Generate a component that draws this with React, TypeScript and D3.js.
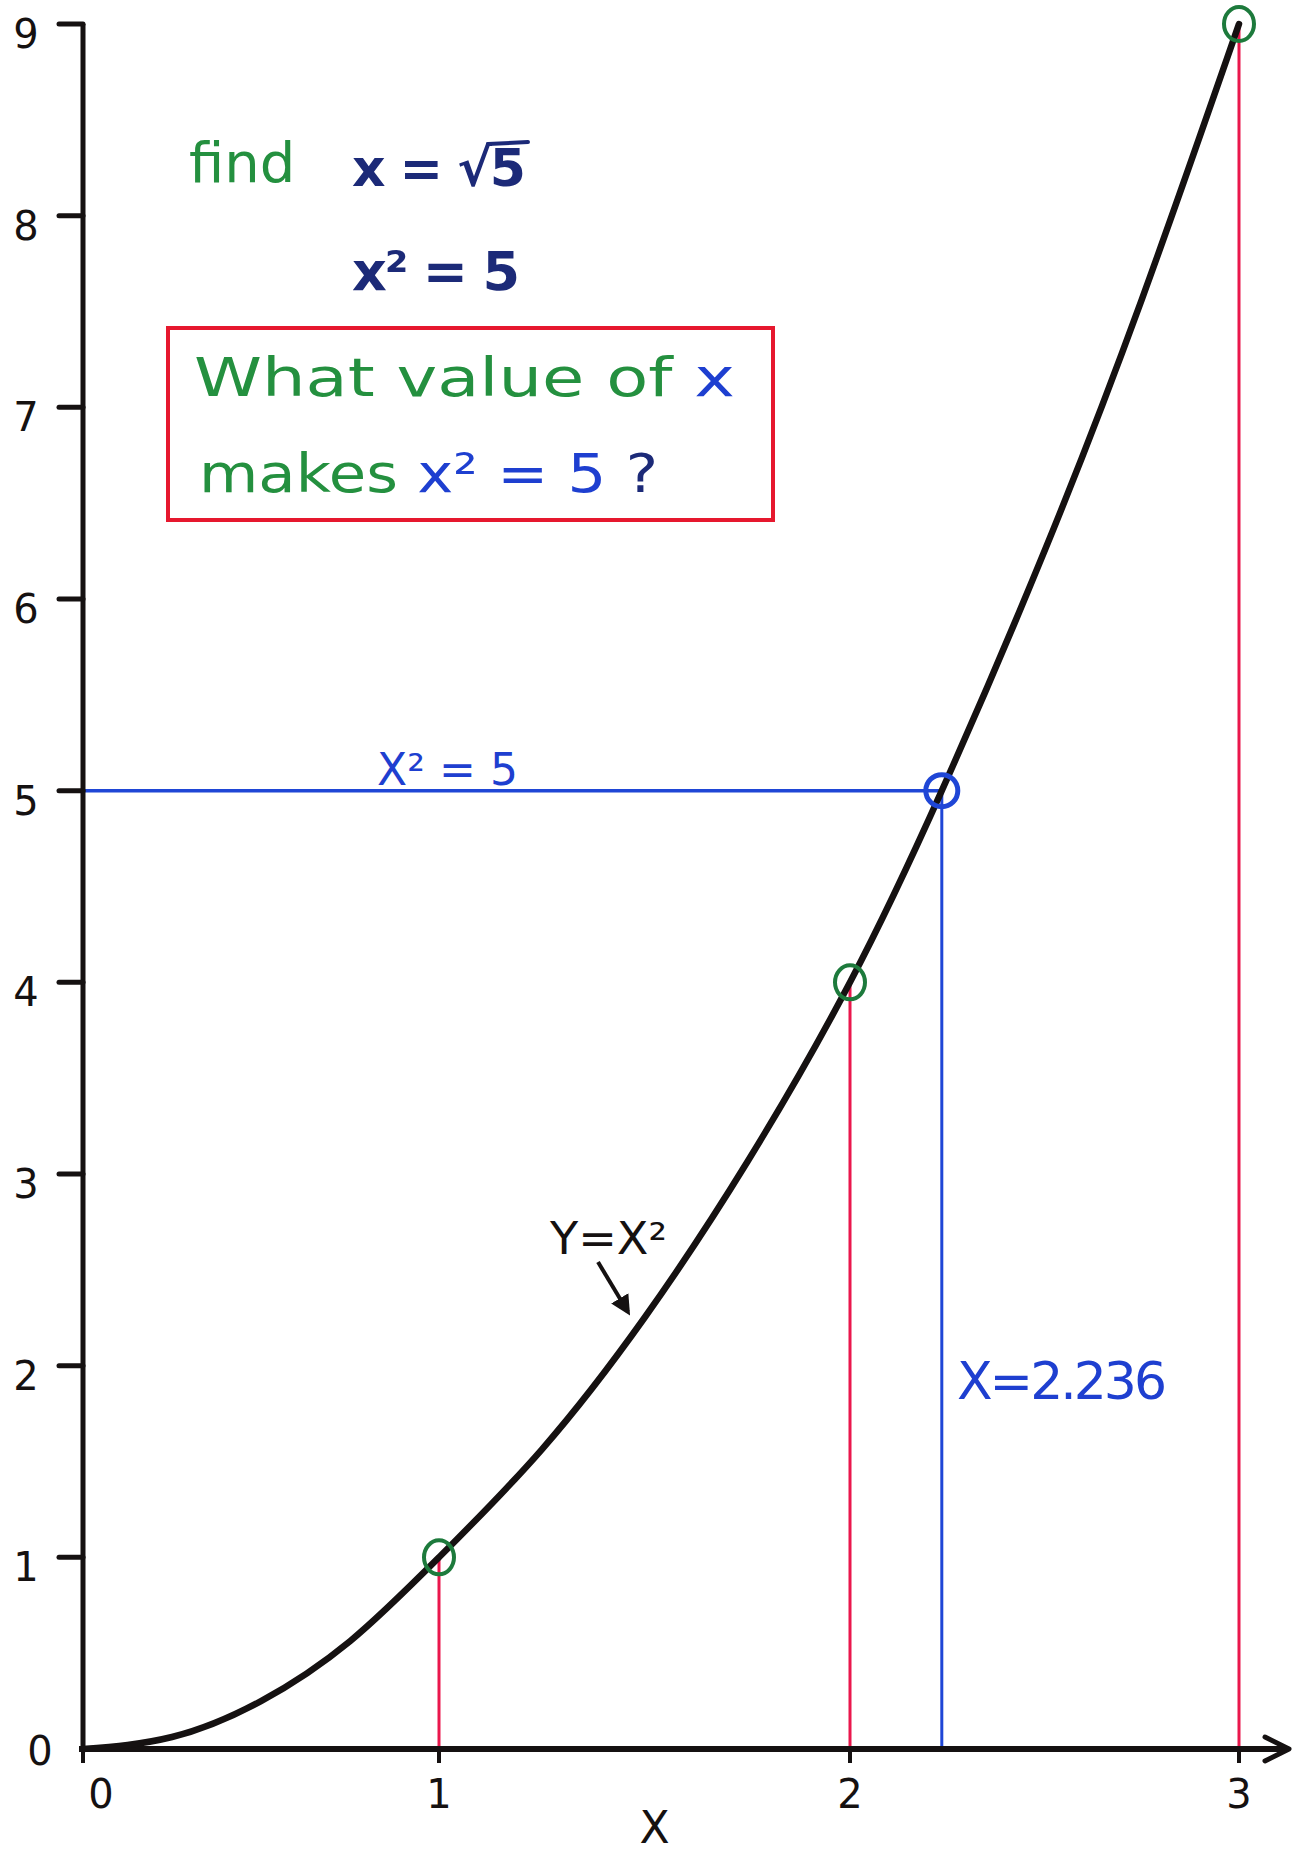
import * as d3 from "d3";

// hand-drawn x axis is uneven, so the scale is piecewise
const xTicks = [0, 1, 2, 3];
const yTicks = [0, 1, 2, 3, 4, 5, 6, 7, 8, 9];

const curveX = [0, 0.25, 0.5, 0.75, 1, 1.25, 1.5, 1.75, 2, 2.236, 2.5, 2.75, 3];
const curveY = [0, 0.0625, 0.25, 0.5625, 1, 1.5625, 2.25, 3.0625, 4, 5, 6.25, 7.5625, 9];

// circled points with red drop lines
const markX = [1, 2, 3];
const markY = [1, 4, 9];

// the answer point
const targetX = 2.236;
const targetY = 5;

const W = 1300;
const H = 1852;

const FONT = "'DejaVu Sans', sans-serif";
const BLACK = "#151111";
const GREEN = "#24903f";
const GREEN_DARK = "#1d7a3c";
const NAVY = "#1c2a78";
const BLUE = "#1e3fd0";
const BLUE_LINE = "#1f46d6";
const RED = "#e6182e";
const RED_LINE = "#ea174c";

export default function App() {
  const x = d3.scaleLinear().domain([0, 1, 2, 3]).range([83, 439, 850, 1239]);
  const y = d3.scaleLinear().domain([0, 9]).range([1749, 24]);

  const pts: [number, number][] = curveX.map((v, i) => [x(v), y(curveY[i])]);
  const curvePath = d3.line().curve(d3.curveNatural)(pts) || "";

  const axisY = y(0);
  const axisX = x(0);
  const arrowTip = 1289;

  return (
    <svg
      width={W}
      height={H}
      style={{ position: "absolute", left: 0, top: 0, background: "#fff" }}
      fontFamily={FONT}
    >
      <rect width={W} height={H} fill="#fff" />

      {/* red drop lines */}
      {markX.map((v, i) => (
        <line
          key={"r" + v}
          x1={x(v)}
          x2={x(v)}
          y1={y(markY[i])}
          y2={axisY}
          stroke={RED_LINE}
          strokeWidth={3}
        />
      ))}

      {/* blue guide lines */}
      <line x1={axisX} x2={x(targetX)} y1={y(targetY)} y2={y(targetY)} stroke={BLUE_LINE} strokeWidth={3.5} />
      <line x1={x(targetX)} x2={x(targetX)} y1={y(targetY)} y2={axisY} stroke={BLUE_LINE} strokeWidth={3} />

      {/* y axis */}
      <line x1={axisX} x2={axisX} y1={y(9)} y2={axisY + 2} stroke={BLACK} strokeWidth={5} />
      {yTicks.map((t) => (
        <g key={"y" + t}>
          {t > 0 && (
            <line x1={axisX - 24} x2={axisX} y1={y(t)} y2={y(t)} stroke={BLACK} strokeWidth={5} strokeLinecap="round" />
          )}
          <text
            x={t === 0 ? 40 : 26}
            y={y(t) + (t === 0 ? 16 : 24)}
            textAnchor="middle"
            fontSize={40}
            fill={BLACK}
          >
            {t}
          </text>
        </g>
      ))}

      {/* x axis with arrow */}
      <line x1={axisX - 4} x2={arrowTip - 2} y1={axisY} y2={axisY} stroke={BLACK} strokeWidth={6} />
      <polyline
        points={`${arrowTip - 24},${axisY - 12} ${arrowTip},${axisY} ${arrowTip - 24},${axisY + 12}`}
        fill="none"
        stroke={BLACK}
        strokeWidth={5}
        strokeLinejoin="round"
        strokeLinecap="round"
      />
      {xTicks.map((t) => (
        <g key={"x" + t}>
          <line x1={x(t)} x2={x(t)} y1={axisY} y2={axisY + 14} stroke={BLACK} strokeWidth={4} />
          <text
            x={t === 0 ? x(t) + 18 : x(t)}
            y={1808}
            textAnchor="middle"
            fontSize={40}
            fill={BLACK}
          >
            {t}
          </text>
        </g>
      ))}
      <text x={x(1.5) + 10} y={1843} textAnchor="middle" fontSize={44} fill={BLACK}>
        X
      </text>

      {/* the curve */}
      <path d={curvePath} fill="none" stroke={BLACK} strokeWidth={6.5} strokeLinecap="round" />

      {/* circled points */}
      {markX.map((v, i) => (
        <ellipse
          key={"c" + v}
          cx={x(v)}
          cy={y(markY[i])}
          rx={15}
          ry={17}
          fill="none"
          stroke={GREEN_DARK}
          strokeWidth={4}
        />
      ))}
      <circle cx={x(targetX)} cy={y(targetY)} r={16} fill="none" stroke={BLUE_LINE} strokeWidth={5} />

      {/* labels on the graph */}
      <text x={377} y={785} fontSize={44} fill={BLUE} textLength={141} lengthAdjust="spacing">
        X² = 5
      </text>
      <text x={957} y={1399} fontSize={52} fill={BLUE} textLength={210} lengthAdjust="spacing">
        X=2.236
      </text>
      <text x={550} y={1254} fontSize={44} fill={BLACK} textLength={117} lengthAdjust="spacingAndGlyphs">
        Y=X²
      </text>
      <defs>
        <marker id="head" viewBox="0 0 10 10" refX={8} refY={5} markerWidth={5} markerHeight={5} orient="auto">
          <path d="M0,0 L10,5 L0,10 z" fill={BLACK} />
        </marker>
      </defs>
      <line x1={598} y1={1262} x2={628} y2={1312} stroke={BLACK} strokeWidth={4} markerEnd="url(#head)" />

      {/* notes at the top */}
      <text x={189} y={182} fontSize={56} fill={GREEN}>
        find
      </text>
      <text x={352} y={186} fontSize={52} fontWeight="bold" fill={NAVY} textLength={174} lengthAdjust="spacing">
        x = √5
      </text>
      <line x1={488} x2={528} y1={144} y2={142} stroke={NAVY} strokeWidth={4} strokeLinecap="round" />
      <text x={352} y={290} fontSize={54} fontWeight="bold" fill={NAVY} textLength={168} lengthAdjust="spacing">
        x² = 5
      </text>

      {/* question box */}
      <rect x={168} y={328} width={605} height={192} fill="none" stroke={RED} strokeWidth={4} />
      <text x={194} y={396} fontSize={54} textLength={541} lengthAdjust="spacingAndGlyphs">
        <tspan fill={GREEN}>What value of </tspan>
        <tspan fill={BLUE}>x</tspan>
      </text>
      <text x={199} y={492} fontSize={54} textLength={459} lengthAdjust="spacingAndGlyphs">
        <tspan fill={GREEN}>makes </tspan>
        <tspan fill={BLUE}>x² = 5 </tspan>
        <tspan fill={NAVY}>?</tspan>
      </text>
    </svg>
  );
}
